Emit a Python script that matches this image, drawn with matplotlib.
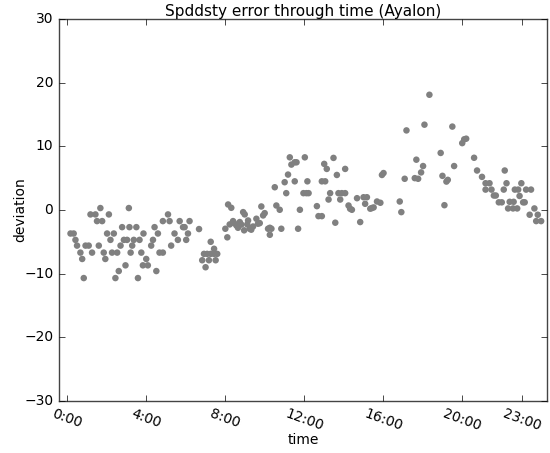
import matplotlib
matplotlib.use("Agg")
import matplotlib.pyplot as plt

# hour of day and deviation
hours = [0.19, 0.35, 0.44, 0.52, 0.69, 0.78, 0.86, 0.95, 1.11, 1.20, 1.28, 1.45, 1.53, 1.62,
         1.70, 1.79, 1.87, 1.95, 2.04, 2.13, 2.21, 2.29, 2.38, 2.46, 2.55, 2.63, 2.72, 2.80,
         2.89, 2.97, 3.05, 3.14, 3.17, 3.23, 3.31, 3.39, 3.52, 3.60, 3.68, 3.77, 3.88, 3.85,
         4.02, 4.10, 4.27, 4.36, 4.44, 4.53, 4.61, 4.69, 4.86, 4.86, 5.12, 5.20, 5.28, 5.45,
         5.62, 5.71, 5.88, 5.96, 6.04, 6.13, 6.21, 6.69, 6.85, 6.94, 7.02, 7.10, 7.19, 7.28,
         7.28, 7.45, 7.45, 7.53, 7.61, 8.02, 8.12, 8.16, 8.24, 8.32, 8.41, 8.46, 8.58, 8.66,
         8.75, 8.83, 8.92, 8.97, 9.00, 9.13, 9.17, 9.25, 9.33, 9.42, 9.59, 9.67, 9.76, 9.84,
         9.93, 10.01, 10.18, 10.27, 10.27, 10.35, 10.52, 10.60, 10.77, 10.85, 11.02, 11.10,
         11.19, 11.28, 11.36, 11.53, 11.53, 11.62, 11.70, 11.79, 11.97, 12.04, 12.12, 12.17,
         12.23, 12.65, 12.73, 12.90, 12.90, 13.02, 13.07, 13.15, 13.24, 13.32, 13.49, 13.58,
         13.66, 13.74, 13.83, 13.91, 14.08, 14.08, 14.25, 14.33, 14.42, 14.68, 14.84, 15.01,
         15.09, 15.18, 15.35, 15.43, 15.52, 15.69, 15.86, 15.94, 16.02, 16.84, 16.92, 17.09,
         17.18, 17.60, 17.68, 17.77, 17.92, 18.02, 18.09, 18.34, 18.91, 19.00, 19.10, 19.20,
         19.27, 19.50, 19.59, 20.00, 20.10, 20.20, 20.60, 20.75, 21.00, 21.18, 21.38, 21.18,
         21.48, 21.60, 21.70, 21.85, 22.00, 22.10, 22.15, 22.24, 22.32, 22.57, 22.78, 22.40,
         22.60, 22.66, 22.83, 22.90, 22.99, 23.08, 23.16, 23.23, 23.48, 23.41, 23.65, 23.74,
         23.99, 23.82]
deviation = [-3.7, -3.7, -4.7, -5.6, -6.7, -7.7, -10.7, -5.6, -5.6, -0.7, -6.7, -0.7, -1.75, -5.6,
             0.3, -1.75, -6.7, -7.7, -3.7, -0.7, -4.7, -6.7, -3.7, -10.7, -6.7, -9.6, -5.6, -2.7,
             -4.7, -8.7, -4.7, 0.3, -2.7, -6.7, -5.6, -4.7, -2.7, -10.7, -4.7, -6.7, -3.7, -8.7,
             -7.7, -8.7, -5.6, -4.7, -2.7, -9.6, -3.7, -6.7, -6.7, -1.75, -0.7, -1.75, -5.6, -3.7,
             -4.7, -1.75, -2.7, -2.7, -4.7, -3.7, -1.75, -3.0, -7.9, -6.9, -9.0, -6.9, -7.9, -6.9,
             -5.0, -6.9, -6.1, -7.9, -6.9, -2.95, -4.3, 0.86, -2.27, 0.34, -1.75, -2.07, -2.43, -2.8,
             -1.9, -2.3, -0.34, -3.2, -0.7, -2.27, -1.65, -2.95, -3.1, -2.6, -1.38, -2.16, -2.07, 0.55,
             -0.86, -0.5, -2.95, -2.8, -3.9, -2.95, 3.57, 0.7, 0.03, -2.95, 4.36, 2.64,
             5.56, 8.27, 7.13, 7.49, 4.5, 7.49, -2.95, 0.03, 2.64, 8.27, 2.64, 4.5,
             2.64, 0.6, -0.97, -0.97, 4.5, 7.24, 4.5, 6.45, 1.64, 2.64, 8.18, -2.0,
             5.5, 2.64, 1.64, 2.64, 2.64, 6.45, 0.7, 0.19, 0.03, 1.85, -1.9, 2.0,
             0.97, 2.0, 0.2, 0.3, 0.4, 1.33, 1.13, 5.5, 5.8, 1.33, -0.34, 4.9,
             12.5, 5.0, 7.9, 4.9, 5.9, 6.9, 13.4, 18.1, 8.96, 5.36, 0.75, 4.46,
             4.73, 13.1, 6.9, 10.5, 11.1, 11.2, 8.2, 6.2, 5.2, 4.2, 4.2, 3.2,
             3.2, 2.27, 2.27, 1.2, 1.2, 3.2, 6.2, 4.2, 0.24, 0.24, 0.24, 1.28,
             1.28, 3.2, 3.2, 2.2, 4.2, 1.2, 1.2, 3.2, 3.2, -0.75, 0.24, -1.75,
             -1.75, -0.75]

tick_hours = [0, 4, 8, 12, 16, 20, 23]
tick_labels = ["0:00", "4:00", "8:00", "12:00", "16:00", "20:00", "23:00"]

plt.style.use("classic")
plt.rcParams["figure.facecolor"] = "white"

fig = plt.figure(figsize=(5.5, 4.53), dpi=100)
ax = fig.add_axes([0.107, 0.115, 0.888, 0.843])

ax.scatter(hours, deviation, s=22, c="gray", edgecolors="none")

ax.set_xlim(-0.4, 24.3)
ax.set_ylim(-30, 30)
ax.set_xticks(tick_hours)
ax.set_xticklabels(tick_labels, rotation=-20)
ax.set_yticks([-30, -20, -10, 0, 10, 20, 30])
ax.tick_params(labelsize=10)
for s in ax.spines.values():
    s.set_color("#444444")
ax.set_xlabel("time", fontsize=10, labelpad=0)
ax.set_ylabel("deviation", fontsize=10, labelpad=-2)
ax.set_title("Spddsty error through time (Ayalon)", fontsize=11, pad=2)

fig.savefig("out.png", dpi=100, facecolor="white")
